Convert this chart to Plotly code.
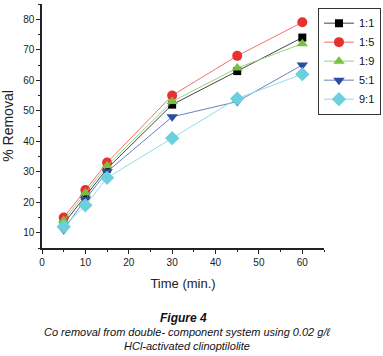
import plotly.graph_objects as go

time = [5, 10, 15, 30, 45, 60]
series_names = ["1:1", "1:5", "1:9", "5:1", "9:1"]
r_11 = [13, 22, 31, 52, 63, 74]
r_15 = [15, 24, 33, 55, 68, 79]
r_19 = [14, 23, 32, 53, 64, 72]
r_51 = [11, 21, 30, 48, 53, 65]
r_91 = [12, 19, 28, 41, 54, 62]
values = [r_11, r_15, r_19, r_51, r_91]

marker_colors = ["#000000", "#e8302e", "#77c043", "#2b4ea2", "#6ccfdd"]
line_colors = ["#444444", "#f07070", "#99d080", "#6a80c0", "#90dde8"]
symbols = ["square", "circle", "triangle-up", "triangle-down", "diamond"]
sizes = [8, 10, 10, 10, 11]

fig = go.Figure()
for name, v, mc, lc, s, sz in zip(series_names, values, marker_colors, line_colors, symbols, sizes):
    fig.add_trace(go.Scatter(
        x=time, y=v, name=name, mode="lines+markers",
        line=dict(color=lc, width=1),
        marker=dict(symbol=s, color=mc, size=sz, line=dict(width=0)),
    ))

axis_common = dict(
    showgrid=False, zeroline=False, showline=True, linecolor="#222", linewidth=1.5,
    ticks="outside", ticklen=4, tickwidth=1, tickcolor="#222",
    tickfont=dict(family="Liberation Sans, Arial", size=10, color="#222"),
)
fig.update_layout(
    width=383, height=356,
    margin=dict(l=42, r=59, t=4, b=108, autoexpand=False),
    paper_bgcolor="white", plot_bgcolor="white",
    font=dict(family="Liberation Sans, Arial", color="#222"),
    xaxis=dict(range=[0, 65], tickvals=[0, 10, 20, 30, 40, 50, 60],
               minor=dict(ticks="outside", ticklen=2, dtick=5, tick0=0, tickcolor="#222"),
               title=dict(text="Time (min.)", font=dict(size=13), standoff=12),
               automargin=False,
               **axis_common),
    yaxis=dict(range=[5, 85], tickvals=[10, 20, 30, 40, 50, 60, 70, 80],
               minor=dict(ticks="outside", ticklen=2, dtick=5, tick0=0, tickcolor="#222"),
               title=dict(text="% Removal", font=dict(size=14), standoff=8),
               automargin=False,
               **axis_common),
    legend=dict(x=1.202, y=0.985, xanchor="right", yanchor="top",
                bordercolor="#333", borderwidth=1, bgcolor="white",
                font=dict(size=11, color="#111"), itemwidth=30,
                tracegroupgap=0),
    showlegend=True,
)

fig.add_annotation(text="<b><i>Figure 4</i></b>", xref="paper", yref="paper",
                   x=0.5, y=-0.286, yanchor="middle", showarrow=False,
                   font=dict(size=12, color="#111"), xshift=0)
fig.add_annotation(text="<i>Co removal from double- component system using 0.02 g/ℓ</i>",
                   xref="paper", yref="paper", x=0.5, y=-0.344, yanchor="middle",
                   showarrow=False, font=dict(size=11, color="#111"), xshift=4)
fig.add_annotation(text="<i>HCl-activated clinoptilolite</i>",
                   xref="paper", yref="paper", x=0.5, y=-0.401, yanchor="middle",
                   showarrow=False, font=dict(size=11, color="#111"), xshift=4)

fig.write_html("out.html", config={"displayModeBar": False},
               post_script="document.body.style.margin='0';")
